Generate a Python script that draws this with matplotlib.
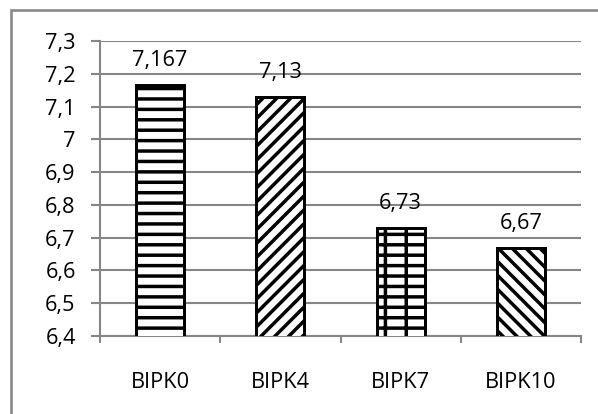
import matplotlib
matplotlib.use("Agg")
import matplotlib.pyplot as plt
from matplotlib.patches import Rectangle

categories = ["BIPK0", "BIPK4", "BIPK7", "BIPK10"]
values = [7.167, 7.13, 6.73, 6.67]
labels = ["7,167", "7,13", "6,73", "6,67"]
yticks = [6.4, 6.5, 6.6, 6.7, 6.8, 6.9, 7.0, 7.1, 7.2, 7.3]
ytick_labels = ["6,4", "6,5", "6,6", "6,7", "6,8", "6,9", "7", "7,1", "7,2", "7,3"]
hatches = ["--", "///", "--|", "\\\\\\"]

plt.rcParams["font.family"] = ["Open Sans", "DejaVu Sans"]
plt.rcParams["hatch.linewidth"] = 2.0
plt.rcParams["hatch.color"] = "black"

dpi = 125
fs = 12.5
fig = plt.figure(figsize=(598 / dpi, 414 / dpi), dpi=dpi)
ax = fig.add_axes([100 / 598, 1 - 336 / 414, 481 / 598, 295 / 414])

grey = "#868686"
x = range(len(categories))
bars = ax.bar(x, values, width=0.4, bottom=0, color="white",
              edgecolor="black", linewidth=1.7, zorder=3)
for b, h in zip(bars, hatches):
    b.set_hatch(h)

for xi, v, lab in zip(x, values, labels):
    ax.annotate(lab, (xi, v), xytext=(0, 8), textcoords="offset points",
                ha="center", va="bottom", fontsize=fs)

ax.set_ylim(6.4, 7.3)
ax.set_xlim(-0.5, len(categories) - 0.5)
ax.set_yticks(yticks)
ax.set_yticklabels(ytick_labels, fontsize=fs)
ax.set_xticks([i - 0.5 for i in range(len(categories) + 1)])
ax.set_xticklabels([])
ax.set_xticks(list(x), minor=True)
ax.set_xticklabels(categories, minor=True, fontsize=fs)
ax.tick_params(axis="x", which="minor", length=0, pad=21)
ax.tick_params(axis="x", which="major", length=4, width=1.2, color=grey)
ax.tick_params(axis="y", length=5, width=1.2, color=grey, pad=9)

ax.yaxis.grid(True, color=grey, linewidth=1.2, zorder=0)
ax.set_axisbelow(True)
for s in ["top", "right"]:
    ax.spines[s].set_visible(False)
for s in ["left", "bottom"]:
    ax.spines[s].set_color(grey)
    ax.spines[s].set_linewidth(1.2)

fig.patches.append(Rectangle((11 / 598, -0.05), 1.0, 1 - 10 / 414 + 0.05,
                             transform=fig.transFigure, fill=False,
                             edgecolor=grey, linewidth=1.5, clip_on=False))

fig.savefig("out.png", dpi=dpi)
